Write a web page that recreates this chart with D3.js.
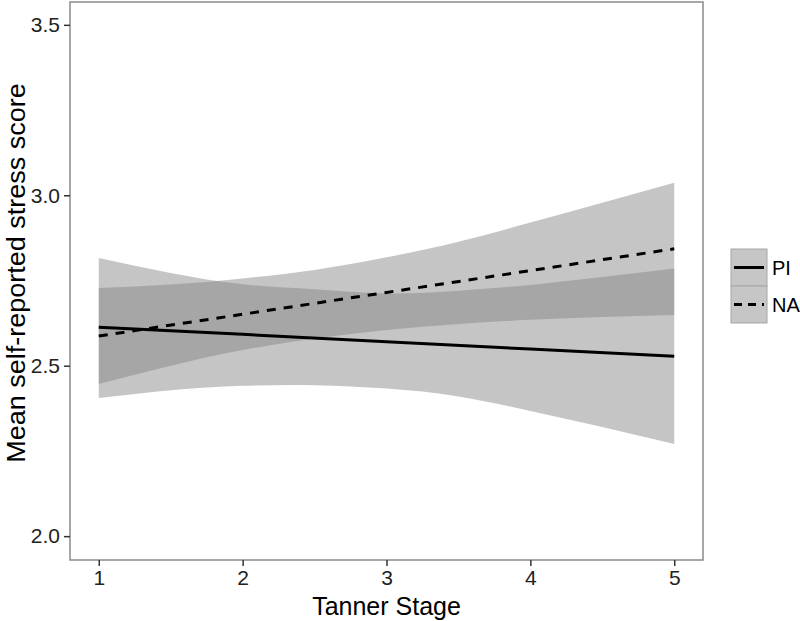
<!DOCTYPE html>
<html>
<head>
<meta charset="utf-8">
<script src="https://cdn.jsdelivr.net/npm/d3@7"></script>
<style>
  body { margin: 0; background: #fff; }
  #figure { width: 800px; height: 621px; }
  text { font-family: "Liberation Sans", Arial, Helvetica, sans-serif; }
</style>
</head>
<body>
<div id="figure"></div>
<script>
// values
var stages = [1, 2, 3, 4, 5];
var piLine = [2.613, 2.592, 2.570, 2.549, 2.528];
var naLine = [2.587, 2.651, 2.715, 2.779, 2.843];

// confidence bands, read at half stages
var bandX = [1, 1.5, 2, 2.5, 3, 3.5, 4, 4.5, 5];
var piUpper = [2.816, 2.772, 2.739, 2.724, 2.712, 2.720, 2.737, 2.760, 2.785];
var piLower = [2.405, 2.428, 2.441, 2.443, 2.433, 2.410, 2.367, 2.320, 2.270];
var naUpper = [2.728, 2.738, 2.756, 2.781, 2.818, 2.864, 2.920, 2.978, 3.037];
var naLower = [2.446, 2.500, 2.546, 2.580, 2.605, 2.622, 2.635, 2.643, 2.649];

var xTicks = [1, 2, 3, 4, 5];
var yTicks = [2.0, 2.5, 3.0, 3.5];
var groups = ["PI", "NA"];

var width = 800, height = 621;
var panel = { left: 70, right: 703, top: 2, bottom: 560 };

var svg = d3.select("#figure")
    .append("svg")
    .attr("width", width)
    .attr("height", height);

var x = d3.scaleLinear().domain([0.8, 5.2]).range([panel.left, panel.right]);
var y = d3.scaleLinear().domain([1.93, 3.567]).range([panel.bottom, panel.top]);

// ribbons
var bands = [
    { lo: piLower, hi: piUpper },
    { lo: naLower, hi: naUpper }
];
var area = d3.area()
    .x(function (d) { return x(d.x) })
    .y0(function (d) { return y(d.lo) })
    .y1(function (d) { return y(d.hi) })
    .curve(d3.curveNatural);

svg.selectAll(".band")
    .data(bands)
    .enter()
    .append("path")
    .attr("class", "band")
    .attr("d", function (b) {
        return area(bandX.map(function (v, i) { return { x: v, lo: b.lo[i], hi: b.hi[i] } }))
    })
    .attr("fill", "#838383")
    .attr("fill-opacity", 0.47);

// fitted lines
var line = d3.line()
    .x(function (d) { return x(d[0]) })
    .y(function (d) { return y(d[1]) });

var series = [
    { name: "PI", vals: piLine, dash: null },
    { name: "NA", vals: naLine, dash: "9,8" }
];

svg.selectAll(".fit")
    .data(series)
    .enter()
    .append("path")
    .attr("class", "fit")
    .attr("d", function (s) { return line(stages.map(function (v, i) { return [v, s.vals[i]] })) })
    .attr("fill", "none")
    .attr("stroke", "#000")
    .attr("stroke-width", 3)
    .attr("stroke-dasharray", function (s) { return s.dash });

// panel border
svg.append("rect")
    .attr("x", panel.left)
    .attr("y", panel.top)
    .attr("width", panel.right - panel.left)
    .attr("height", panel.bottom - panel.top)
    .attr("fill", "none")
    .attr("stroke", "#8a8a8a")
    .attr("stroke-width", 1.5);

// axes
var xAxis = svg.append("g")
    .attr("transform", "translate(0," + panel.bottom + ")")
    .call(d3.axisBottom(x).tickValues(xTicks).tickFormat(d3.format("d")).tickSize(6).tickPadding(4));
var yAxis = svg.append("g")
    .attr("transform", "translate(" + panel.left + ",0)")
    .call(d3.axisLeft(y).tickValues(yTicks).tickFormat(d3.format(".1f")).tickSize(6).tickPadding(4));

[xAxis, yAxis].forEach(function (a) {
    a.select(".domain").remove();
    a.selectAll(".tick line").attr("stroke", "#333").attr("stroke-width", 1.5);
    a.selectAll(".tick text")
        .attr("fill", "#222")
        .style("font-size", "21px")
        .style("font-family", "'Liberation Sans', Arial, sans-serif");
});

// axis titles
svg.append("text")
    .attr("x", (panel.left + panel.right) / 2)
    .attr("y", 615)
    .attr("text-anchor", "middle")
    .style("font-size", "25px")
    .attr("fill", "#000")
    .text("Tanner Stage");

svg.append("text")
    .attr("transform", "translate(25,273) rotate(-90) scale(1.08,1)")
    .attr("text-anchor", "middle")
    .style("font-size", "25px")
    .attr("fill", "#000")
    .text("Mean self-reported stress score");

// legend
var legend = svg.append("g").attr("transform", "translate(731,249)");
var keyW = 36, keyH = 37;
var items = legend.selectAll(".key")
    .data(series)
    .enter()
    .append("g")
    .attr("class", "key")
    .attr("transform", function (d, i) { return "translate(0," + (i * keyH) + ")" });

items.append("rect")
    .attr("width", keyW)
    .attr("height", keyH)
    .attr("fill", "#c6c6c6")
    .attr("stroke", "#a6a6a6")
    .attr("stroke-width", 1);

items.append("line")
    .attr("x1", 3)
    .attr("x2", keyW - 3)
    .attr("y1", keyH / 2)
    .attr("y2", keyH / 2)
    .attr("stroke", "#000")
    .attr("stroke-width", 3)
    .attr("stroke-dasharray", function (d) { return d.dash ? "8,6" : null });

items.append("text")
    .attr("x", keyW + 5)
    .attr("y", keyH / 2)
    .attr("dy", "0.36em")
    .style("font-size", "20px")
    .attr("fill", "#000")
    .text(function (d) { return d.name });
</script>
</body>
</html>
